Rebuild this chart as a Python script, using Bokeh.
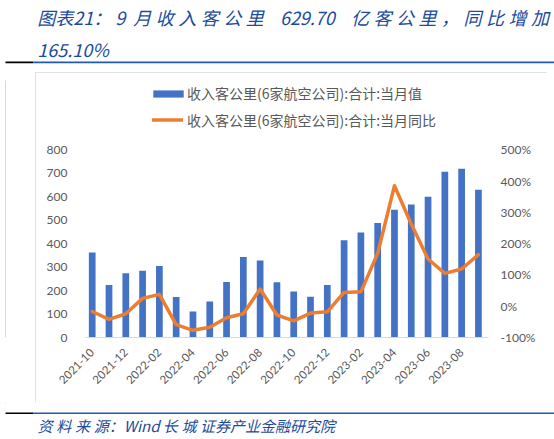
import math
from bokeh.plotting import figure
from bokeh.layouts import column, row
from bokeh.models import (Range1d, LinearAxis, FixedTicker, Label, BoxAnnotation,
                          Legend, LegendItem, ColumnDataSource, PrintfTickFormatter)
from bokeh.embed import file_html
from bokeh.resources import INLINE

# ---------------- data ----------------
months = ["2021-10", "2021-11", "2021-12", "2022-01", "2022-02", "2022-03",
          "2022-04", "2022-05", "2022-06", "2022-07", "2022-08", "2022-09",
          "2022-10", "2022-11", "2022-12", "2023-01", "2023-02", "2023-03",
          "2023-04", "2023-05", "2023-06", "2023-07", "2023-08", "2023-09"]
rpk = [362, 224, 274, 285, 305, 173, 111, 153, 237, 343, 328, 235,
       196, 174, 224, 414, 448, 488, 545, 567, 600, 706, 719, 629.7]
yoy = [-17, -42, -24, 25, 38, -59, -77, -67, -37, -24, 55, -28,
       -47, -22, -18, 44, 46, 169, 385, 263, 151, 105, 119, 165.1]
left_ticks = [0, 100, 200, 300, 400, 500, 600, 700, 800]
right_ticks = [-100, 0, 100, 200, 300, 400, 500]
bar_label = "收入客公里(6家航空公司):合计:当月值"
line_label = "收入客公里(6家航空公司):合计:当月同比"
# "_" = wide gap (no-break space), "|" = narrow gap between characters
title1_src = "图表21：_9__月|收|入|客|公|里____629.70____亿|客|公|里|，|同|比|增|加"
title2 = "165.10%"
footer_src = "资|料|来|源：Wind_长|城_证券产业金融研究院"

NBSP = "\u00a0"
GAP = "\u2005"
title1 = title1_src.replace("_", NBSP).replace("|", GAP)
footer = footer_src.replace("_", NBSP).replace("|", GAP)

BLUE = "#4472C4"
ORANGE = "#ED7D31"
GREY = "#595959"
TBLUE = "#1A4B9C"
LBLUE = "#1F5BAF"
BOXGREY = "#D9D9D9"
CJK = "Noto Sans CJK SC"
NUM = "Lato"


def blank(w, h):
    f = figure(width=w, height=h, output_backend="svg", toolbar_location=None,
               x_range=Range1d(0, w), y_range=Range1d(0, h),
               x_axis_location=None, y_axis_location=None, min_border=0)
    f.outline_line_color = None
    f.border_fill_color = "white"
    f.background_fill_color = "white"
    f.grid.visible = False
    return f


def box(l, r, t, b, color):
    return BoxAnnotation(left=l, right=r, top=t, bottom=b,
                         left_units="screen", right_units="screen",
                         top_units="screen", bottom_units="screen",
                         fill_color=color, fill_alpha=1, line_color=None)


def lbl(x, y, text, size, style="italic", color=TBLUE, font=CJK):
    return Label(x=x, y=y, x_units="screen", y_units="screen", text=text,
                 text_font=font, text_font_size=size, text_font_style=style,
                 text_color=color, text_align="left", text_baseline="middle")


# ---------------- header (page y 0..72) ----------------
TOP_H = 72
top = blank(554, TOP_H)
top.add_layout(lbl(36.7, TOP_H - 16, title1, "18px"))
top.add_layout(lbl(36.7, TOP_H - 48.5, title2, "18px"))
top.add_layout(box(5, 33, TOP_H - 61, TOP_H - 62.7, "#000000"))
top.add_layout(box(33, 554, TOP_H - 61, TOP_H - 62.7, LBLUE))

# ---------------- left strip (page x 0..35) ----------------
MID_H = 330
strip = blank(35, MID_H)
strip.add_layout(box(4.5, 5.5, MID_H, 0, BOXGREY))

# ---------------- chart (page x 35..547, y 72..402) ----------------
MID_W = 512
FR_TOP, FR_BOT = 80, 337          # page y of frame top / bottom
Y0_PIX, Y800_PIX = 337, 149.3     # page y of value 0 and 800
ppu = (Y0_PIX - Y800_PIX) / 800.0
y_end = (FR_BOT - FR_TOP) / ppu
ppu_r = (Y0_PIX - Y800_PIX) / 600.0
r_end = -100 + (FR_BOT - FR_TOP) / ppu_r

p = figure(width=MID_W, height=MID_H, output_backend="svg", toolbar_location=None,
           x_range=Range1d(-0.40, 23.6), y_range=Range1d(0, y_end),
           min_border_left=85 - 35, min_border_right=MID_W - (488 - 35),
           min_border_top=FR_TOP - 72, min_border_bottom=MID_H - (FR_BOT - 72),
           styles={"outline": "1px solid " + BOXGREY, "outline-offset": "-1px"})
p.outline_line_color = None
p.xgrid.visible = False
p.ygrid.visible = False
p.background_fill_color = "white"
p.border_fill_color = "white"
p.extra_y_ranges = {"pct": Range1d(-100, r_end)}

src = ColumnDataSource(dict(x=list(range(len(months))), rpk=rpk, yoy=yoy))
bars = p.vbar(x="x", top="rpk", width=0.4, source=src, fill_color=BLUE, line_color=None)
line = p.line(x="x", y="yoy", source=src, y_range_name="pct", line_color=ORANGE,
              line_width=3.5, line_join="round", line_cap="round")

xa = p.xaxis[0]
xa.ticker = FixedTicker(ticks=list(range(0, len(months), 2)))
xa.major_label_overrides = {i: months[i] for i in range(0, len(months), 2)}
xa.major_label_orientation = math.pi / 4
xa.major_label_text_font = NUM
xa.major_label_text_font_size = "11.5px"
xa.major_label_text_color = GREY
xa.axis_line_color = BOXGREY
xa.major_tick_line_color = None
xa.minor_tick_line_color = None
xa.major_tick_out = 0
xa.major_label_standoff = 13

ya = p.yaxis[0]
ya.ticker = FixedTicker(ticks=left_ticks)
ya.major_label_text_font = NUM
ya.major_label_text_font_size = "12px"
ya.major_label_text_color = GREY
ya.axis_line_color = None
ya.major_tick_line_color = None
ya.minor_tick_line_color = None
ya.major_tick_out = 0
ya.major_label_standoff = 18

ra = LinearAxis(y_range_name="pct", ticker=FixedTicker(ticks=right_ticks),
                formatter=PrintfTickFormatter(format="%d%%"))
ra.major_label_text_font = NUM
ra.major_label_text_font_size = "12px"
ra.major_label_text_color = GREY
ra.axis_line_color = None
ra.major_tick_line_color = None
ra.minor_tick_line_color = None
ra.major_tick_out = 0
ra.major_label_standoff = 12
p.add_layout(ra, "right")


def mk_legend(item, loc, gw, gh, standoff):
    return Legend(items=[item], location=loc, orientation="vertical",
                  glyph_width=gw, glyph_height=gh, label_standoff=standoff,
                  label_height=20, spacing=0, padding=0, margin=0,
                  border_line_color=None, background_fill_alpha=0,
                  label_text_font=CJK, label_text_font_size="14px",
                  label_text_color=GREY)


# legend positions relative to the frame (x from frame left, y up from frame bottom)
p.add_layout(mk_legend(LegendItem(label=bar_label, renderers=[bars]),
                       (149 - 85, FR_BOT - 103), 38, 9, 0))
p.add_layout(mk_legend(LegendItem(label=line_label, renderers=[line]),
                       (152 - 85, FR_BOT - 129.5), 31, 9, 4))

# ---------------- footer (page y 402..439) ----------------
BOT_H = 37
bot = blank(554, BOT_H)
bot.add_layout(box(4.5, 5.5, BOT_H, BOT_H - 1, BOXGREY))
bot.add_layout(box(5, 33, 439 - 412, 439 - 413.6, "#000000"))
bot.add_layout(box(33, 554, 439 - 412, 439 - 413.6, LBLUE))
bot.add_layout(lbl(37, 439 - 425, footer, "15px"))

layout = column(top, row(strip, p), bot)
open("out.html", "w").write(file_html(layout, INLINE))
